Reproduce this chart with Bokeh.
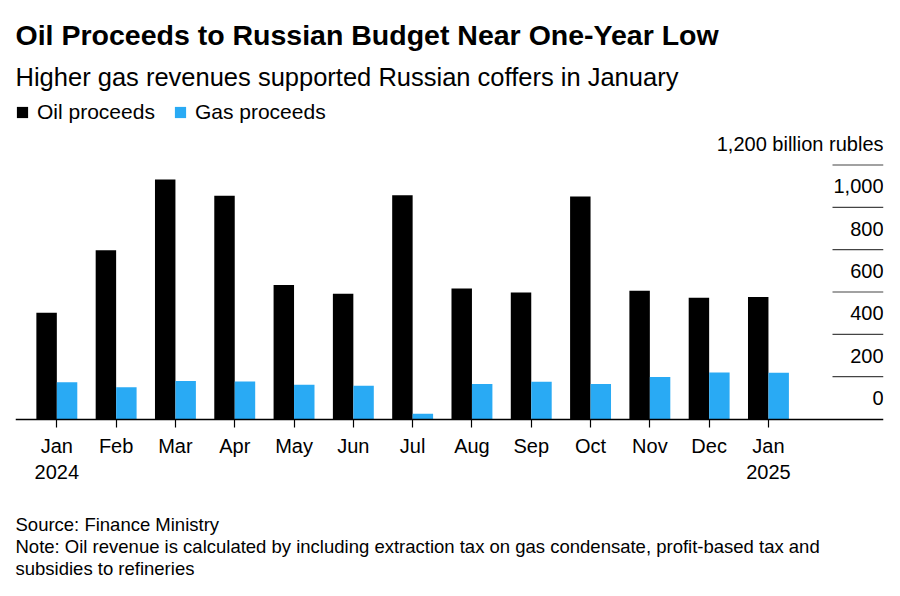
from bokeh.plotting import figure
from bokeh.models import ColumnDataSource, Range1d, FixedTicker, Title, Legend, LegendItem
from bokeh.transform import dodge
from bokeh.embed import file_html
from bokeh.resources import INLINE
from bokeh.core.properties import value

months = ["Jan\n2024", "Feb", "Mar", "Apr", "May", "Jun", "Jul", "Aug", "Sep",
          "Oct", "Nov", "Dec", "Jan\n2025"]
oil = [502, 797, 1131, 1055, 633, 592, 1057, 617, 598, 1051, 606, 573, 576]
gas = [174, 150, 179, 177, 162, 157, 25, 165, 176, 165, 198, 220, 218]
y_ticks = [0, 200, 400, 600, 800, 1000, 1200]
y_labels = ["0", "200", "400", "600", "800", "1,000", "1,200 billion rubles"]

FONT = "Liberation Sans"
OIL_C = "#000000"
GAS_C = "#29aaf4"
TXT = "#000000"

idx = list(range(len(months)))
src = ColumnDataSource(dict(x=idx, oil=oil, gas=gas))

# frame: 15..883 px horizontally, 100..506 px vertically; value 0 sits at 418.5 px
x_start, x_end = -0.697, 13.94
y_start, y_end = -413.4, 1504.8

p = figure(width=900, height=596, output_backend="svg", toolbar_location=None,
           x_range=Range1d(x_start, x_end), y_range=Range1d(y_start, y_end),
           y_axis_location=None, title=None,
           min_border_left=15, min_border_right=17,
           min_border_top=100, min_border_bottom=90)
p.outline_line_color = None
p.grid.visible = False
p.background_fill_color = "white"
p.border_fill_color = "white"

bw = 0.345
r_oil = p.vbar(x=dodge("x", -bw / 2), top="oil", bottom=0, width=bw, source=src,
               fill_color=OIL_C, line_color=None)
r_gas = p.vbar(x=dodge("x", bw / 2), top="gas", bottom=0, width=bw, source=src,
               fill_color=GAS_C, line_color=None)

# right-side value labels and short gridlines
grid_x0 = 13.08
p.segment(x0=[grid_x0] * (len(y_ticks) - 1), x1=[x_end] * (len(y_ticks) - 1),
          y0=y_ticks[1:], y1=y_ticks[1:], line_color="#444444", line_width=1.2)
p.text(x=[x_end] * len(y_ticks), y=[t + 100 for t in y_ticks], text=y_labels,
       text_align="right", text_baseline="middle", text_font=value(FONT),
       text_font_size="20px", text_color=TXT)

# x axis, pinned at value 0
ax = p.xaxis[0]
ax.fixed_location = 0
ax.ticker = FixedTicker(ticks=idx)
ax.major_label_overrides = {i: m for i, m in zip(idx, months)}
ax.axis_line_color = "#000000"
ax.axis_line_width = 1.5
ax.major_tick_line_color = "#000000"
ax.major_tick_line_width = 1.2
ax.major_tick_in = 0
ax.major_tick_out = 8
ax.minor_tick_line_color = None
ax.major_label_standoff = 8
ax.major_label_text_font = FONT
ax.major_label_text_font_size = "20px"
ax.major_label_text_color = TXT
ax.major_label_text_line_height = 1.2

legend = Legend(items=[LegendItem(label="Oil proceeds", renderers=[r_oil]),
                       LegendItem(label="Gas proceeds", renderers=[r_gas])],
                location="top_left", orientation="horizontal",
                glyph_width=14, glyph_height=14, label_standoff=8, spacing=18,
                margin=0, padding=2, label_text_font=FONT, label_text_color=TXT,
                label_text_font_size="21px", label_height=20,
                border_line_color=None, background_fill_alpha=0)
p.add_layout(legend)

p.add_layout(Title(text="Higher gas revenues supported Russian coffers in January",
                   text_font=FONT, text_font_size="25.5px", text_font_style="normal",
                   text_color=TXT, align="left", standoff=20), "above")
p.add_layout(Title(text="Oil Proceeds to Russian Budget Near One-Year Low",
                   text_font=FONT, text_font_size="28.5px", text_font_style="bold",
                   text_color=TXT, align="left", standoff=0), "above")

p.add_layout(Title(text="Source: Finance Ministry\nNote: Oil revenue is calculated by including extraction tax on gas condensate, profit-based tax and\nsubsidies to refineries",
                   text_font=FONT, text_font_size="18.5px", text_font_style="normal",
                   text_color=TXT, text_line_height=1.05, align="left", standoff=12), "below")

open("out.html", "w").write(file_html(p, INLINE))
